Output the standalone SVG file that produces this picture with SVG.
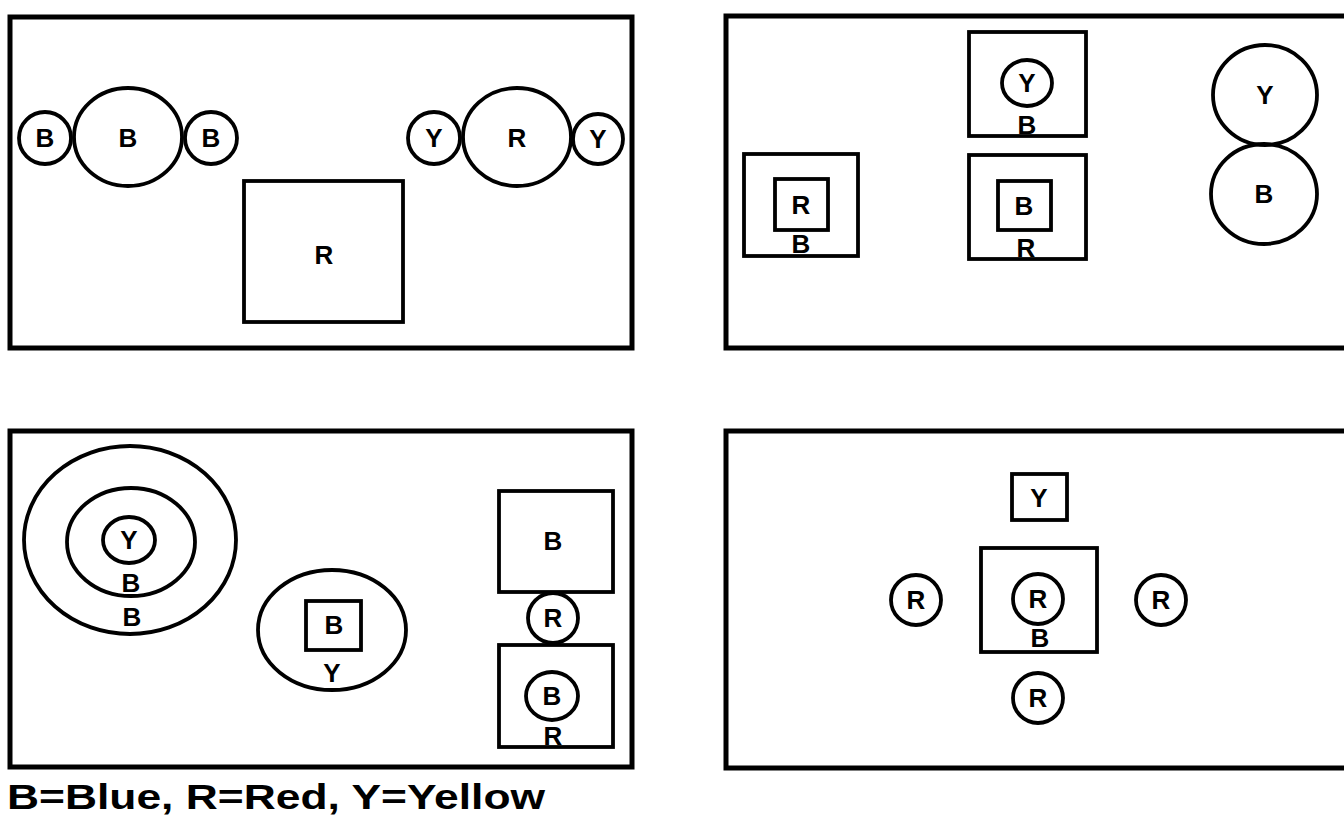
<svg xmlns="http://www.w3.org/2000/svg" width="1344" height="818" viewBox="0 0 1344 818">
<style>
.frame{fill:none;stroke:#000;stroke-width:5}
.s{fill:none;stroke:#000;stroke-width:3.8}
.t{font-family:"Liberation Sans",Arial,sans-serif;font-weight:bold;font-size:26px;fill:#000;text-anchor:middle}
.leg{font-family:"Liberation Sans",Arial,sans-serif;font-weight:bold;font-size:35px;fill:#000}
</style>
<rect width="1344" height="818" fill="#fff"/>
<!-- Panel 1 -->
<g id="panel1">
<rect class="frame" x="10" y="17" width="622" height="331"/>
<g id="p1-b-left"><circle class="s" cx="45" cy="138" r="26"/><text class="t" x="45" y="147">B</text></g>
<g id="p1-b-big"><ellipse class="s" cx="128" cy="137" rx="54" ry="49"/><text class="t" x="128" y="147">B</text></g>
<g id="p1-b-right"><circle class="s" cx="211" cy="138" r="26"/><text class="t" x="211" y="147">B</text></g>
<g id="p1-r-square"><rect class="s" x="244" y="181" width="159" height="141"/><text class="t" x="324" y="264">R</text></g>
<g id="p1-y-left"><circle class="s" cx="434" cy="138" r="26"/><text class="t" x="434" y="147">Y</text></g>
<g id="p1-r-big"><ellipse class="s" cx="517" cy="137" rx="54" ry="49"/><text class="t" x="517" y="147">R</text></g>
<g id="p1-y-right"><circle class="s" cx="598" cy="139" r="25"/><text class="t" x="598" y="148">Y</text></g>
</g>
<!-- Panel 2 -->
<g id="panel2">
<rect class="frame" x="726" y="16" width="630" height="332"/>
<g id="p2-sq-top"><rect class="s" x="969" y="32" width="117" height="104"/>
<ellipse class="s" cx="1027" cy="83" rx="25" ry="23"/><text class="t" x="1027" y="92">Y</text>
<text class="t" x="1027" y="134">B</text></g>
<g id="p2-sq-left"><rect class="s" x="744" y="154" width="114" height="102"/>
<rect class="s" x="775" y="179" width="53" height="51"/><text class="t" x="801" y="214">R</text>
<text class="t" x="801" y="253">B</text></g>
<g id="p2-sq-mid"><rect class="s" x="969" y="155" width="117" height="104"/>
<rect class="s" x="998" y="181" width="53" height="49"/><text class="t" x="1024" y="215">B</text>
<text class="t" x="1026" y="257">R</text></g>
<g id="p2-y-circle"><ellipse class="s" cx="1265" cy="95" rx="52" ry="50"/><text class="t" x="1265" y="104">Y</text></g>
<g id="p2-b-circle"><ellipse class="s" cx="1264" cy="194" rx="53" ry="50"/><text class="t" x="1264" y="203">B</text></g>
</g>
<!-- Panel 3 -->
<g id="panel3">
<rect class="frame" x="10" y="431" width="622" height="336"/>
<g id="p3-target"><ellipse class="s" cx="130" cy="540" rx="106" ry="94"/>
<ellipse class="s" cx="131" cy="542" rx="64" ry="54"/>
<ellipse class="s" cx="129" cy="540" rx="26" ry="23"/><text class="t" x="129" y="549">Y</text>
<text class="t" x="131" y="592">B</text>
<text class="t" x="132" y="626">B</text></g>
<g id="p3-circle-square"><ellipse class="s" cx="332" cy="630" rx="74" ry="60"/>
<rect class="s" x="306" y="601" width="55" height="49"/><text class="t" x="334" y="634">B</text>
<text class="t" x="332" y="682">Y</text></g>
<g id="p3-sq-upper"><rect class="s" x="499" y="491" width="114" height="101"/><text class="t" x="553" y="550">B</text></g>
<g id="p3-r-circle"><circle class="s" cx="553" cy="618" r="25"/><text class="t" x="553" y="627">R</text></g>
<g id="p3-sq-lower"><rect class="s" x="499" y="645" width="114" height="102"/>
<ellipse class="s" cx="552" cy="696" rx="26" ry="24"/><text class="t" x="552" y="705">B</text>
<text class="t" x="553" y="745">R</text></g>
</g>
<!-- Panel 4 -->
<g id="panel4">
<rect class="frame" x="726" y="431" width="630" height="337"/>
<g id="p4-y-square"><rect class="s" x="1012" y="474" width="55" height="46"/><text class="t" x="1039" y="507">Y</text></g>
<g id="p4-sq-center"><rect class="s" x="981" y="548" width="116" height="104"/>
<circle class="s" cx="1038" cy="599" r="25"/><text class="t" x="1038" y="608">R</text>
<text class="t" x="1040" y="647">B</text></g>
<g id="p4-r-left"><circle class="s" cx="916" cy="600" r="25"/><text class="t" x="916" y="609">R</text></g>
<g id="p4-r-right"><circle class="s" cx="1161" cy="600" r="25"/><text class="t" x="1161" y="609">R</text></g>
<g id="p4-r-bottom"><circle class="s" cx="1038" cy="698" r="25"/><text class="t" x="1038" y="707">R</text></g>
</g>
<g id="connectors"/>
<g id="legend"><text class="leg" x="7" y="809" textLength="538" lengthAdjust="spacingAndGlyphs">B=Blue, R=Red, Y=Yellow</text></g>
</svg>
